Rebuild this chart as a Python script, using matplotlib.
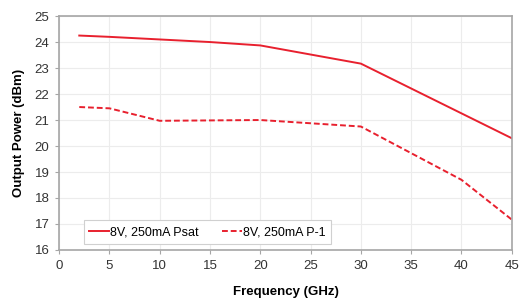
import matplotlib.pyplot as plt

plt.rcParams['font.family'] = ['Liberation Sans', 'DejaVu Sans']

# Psat curve
freq_psat = [2, 5, 10, 15, 20, 30, 45]
psat = [24.25, 24.2, 24.1, 24.0, 23.87, 23.17, 20.3]

# P-1 curve
freq_p1 = [2, 5, 10, 20, 30, 40, 45]
p1 = [21.5, 21.45, 20.97, 21.0, 20.75, 18.7, 17.17]

labels = ['8V, 250mA Psat', '8V, 250mA P-1']

fig = plt.figure(figsize=(5.19, 3.03), dpi=100)
ax = fig.add_axes([0.114, 0.175, 0.872, 0.772])

red = '#e8202e'
ax.plot(freq_psat, psat, color=red, lw=1.4, label=labels[0])
ax.plot(freq_p1, p1, color=red, lw=1.4, ls=(0, (3, 1.5)), label=labels[1])

ax.set_xlim(0, 45)
ax.set_ylim(16, 25)
ax.set_xticks(range(0, 46, 5))
ax.set_yticks(range(16, 26))
ax.grid(True, color='#ececec', lw=0.8)
ax.set_axisbelow(True)
for s in ax.spines.values():
    s.set_color('#a6a6a6')
    s.set_linewidth(1.2)
ax.tick_params(labelsize=9.5, colors='#333333', length=3, width=0.8, pad=4)
ax.tick_params(axis='both', color='#a6a6a6')

ax.set_xlabel('Frequency (GHz)', fontsize=9.5, fontweight='bold', labelpad=10)
ax.set_ylabel('Output Power (dBm)', fontsize=9.5, fontweight='bold', labelpad=7)

leg = ax.legend(loc='lower left', bbox_to_anchor=(0.04, 0.0), ncol=2,
                fontsize=9, handlelength=1.6, handletextpad=0.05,
                columnspacing=1.9, fancybox=False, framealpha=1,
                borderpad=0.45, edgecolor='#d0d0d0')
leg.get_frame().set_linewidth(0.8)

fig.savefig('out.png', dpi=100)
